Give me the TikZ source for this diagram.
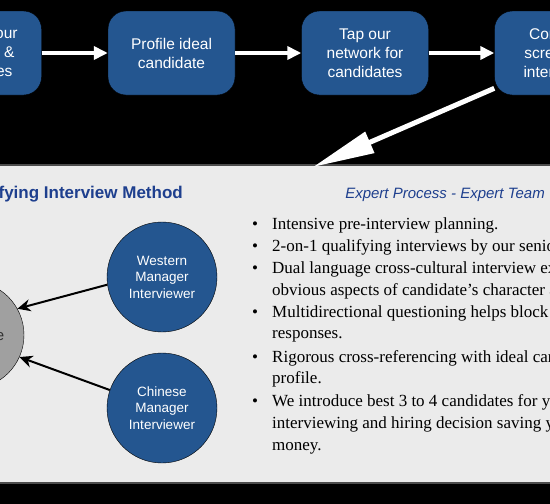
\documentclass[tikz,border=0pt]{standalone}
\usepackage{fontspec}
\setmainfont{Liberation Serif}
\setsansfont{Liberation Sans}
\usetikzlibrary{arrows.meta}
\definecolor{boxblue}{HTML}{245690}
\definecolor{titleblue}{HTML}{1E3F8E}
\definecolor{panelgray}{HTML}{EBEBEB}
\definecolor{candgray}{HTML}{A0A0A0}
\begin{document}
\begin{tikzpicture}[x=1pt,y=-1pt,
	stepbox/.style={rectangle,rounded corners=18pt,fill=boxblue,draw=black,
		minimum width=127pt,minimum height=84pt,inner sep=2pt,align=center,
		text=white,font=\sffamily\fontsize{15.5}{19}\selectfont},
	mgrcircle/.style={circle,fill=boxblue,draw=black,minimum size=110pt,
		inner sep=0pt,align=center,text=white,
		font=\sffamily\fontsize{13.5}{16.5}\selectfont},
	candcircle/.style={circle,fill=candgray,draw=black,minimum size=108pt,
		inner sep=0pt,text=black!80,font=\sffamily\fontsize{15}{18}\selectfont},
	flowarrow/.style={-{Triangle[length=14pt,width=13pt]},white,line width=3.5pt},
	bigarrow/.style={-{Triangle[length=62pt,width=22pt]},white,line width=5pt},
	askarrow/.style={-{Stealth[length=13pt,width=12pt]},black,line width=2pt},
	bulletdot/.style={anchor=base,font=\fontsize{17}{22}\selectfont},
	bullettext/.style={anchor=base west,inner sep=0pt,font=\fontsize{17}{22}\selectfont}]
	\clip (0,0) rectangle (550,504);
	\fill[black] (0,0) rectangle (550,504);
	
	%process steps
	\node[stepbox] (define) at (-22,53){Define your\\priorities \&\\objectives};
	\node[stepbox] (profile) at (171.5,53){Profile ideal\\candidate};
	\node[stepbox] (network) at (365,53){Tap our\\network for\\candidates};
	\node[stepbox] (screen) at (558,53){Conduct\\screening\\interviews};
	\draw[flowarrow] (define) -- (profile);
	\draw[flowarrow] (profile) -- (network);
	\draw[flowarrow] (network) -- (screen);
	
	%interview panel
	\fill[panelgray, draw=black!70, line width=1.5pt] (-5,165) rectangle (555,483);
	\coordinate (paneltip) at (313,167);
	\draw[bigarrow] (screen.209) -- (paneltip);
	
	\node[anchor=base east, inner sep=0pt, text=titleblue, font=\sffamily\bfseries\fontsize{17}{20}\selectfont] (method) at (183,198){Qualifying Interview Method};
	\node[anchor=base east, inner sep=0pt, text=titleblue, font=\sffamily\itshape\fontsize{15}{18}\selectfont] (expert) at (545,198){Expert Process - Expert Team};
	
	\node[candcircle] (cand) at (-30,335){Candidate};
	\node[mgrcircle] (western) at (162,277){Western\\Manager\\Interviewer};
	\node[mgrcircle] (chinese) at (162,408){Chinese\\Manager\\Interviewer};
	\draw[askarrow] (western.188) -- (cand.29);
	\draw[askarrow] (chinese.161) -- (cand.-24);
	
	%bullet list
	\foreach \y in {229, 251, 273, 317, 362, 406}{
		\node[bulletdot] at (255,\y){\textbullet};
	}
	\node[bullettext] (l1) at (272,229){Intensive pre-interview planning.};
	\node[bullettext] (l2) at (272,251){2-on-1 qualifying interviews by our senior consultants.};
	\node[bullettext] (l3) at (272,273){Dual language cross-cultural interview exposes less};
	\node[bullettext] (l4) at (272,295){obvious aspects of candidate’s character and fit.};
	\node[bullettext] (l5) at (272,317){Multidirectional questioning helps block rehearsed};
	\node[bullettext] (l6) at (272,338){responses.};
	\node[bullettext] (l7) at (272,362){Rigorous cross-referencing with ideal candidate};
	\node[bullettext] (l8) at (272,383){profile.};
	\node[bullettext] (l9) at (272,406){We introduce best 3 to 4 candidates for your};
	\node[bullettext] (l10) at (272,428){interviewing and hiring decision saving you time and};
	\node[bullettext] (l11) at (272,450){money.};
\end{tikzpicture}
\end{document}
